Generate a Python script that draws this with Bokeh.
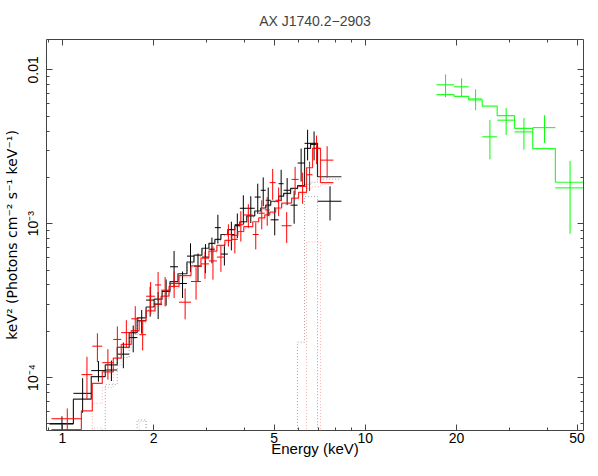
from bokeh.plotting import figure
from bokeh.models import Range1d, LogAxis, FixedTicker
from bokeh.embed import file_html
from bokeh.resources import INLINE

FONT = "Liberation Sans"

# ---------------- data ----------------
title_text = "AX J1740.2\u22122903"
x_label = "Energy (keV)"
y_label = "keV\u00b2 (Photons cm\u207b\u00b2 s\u207b\u00b9 keV\u207b\u00b9)"

x_major = [1, 2, 5, 10, 20, 50]
x_minor = [0.9, 3, 4, 6, 7, 8, 9, 30, 40]
x_tick_labels = ["1", "2", "5", "10", "20", "50"]
y_major = [1e-4, 1e-3, 1e-2]
y_minor = [5e-5, 6e-5, 7e-5, 8e-5, 9e-5,
           2e-4, 3e-4, 4e-4, 5e-4, 6e-4, 7e-4, 8e-4, 9e-4,
           2e-3, 3e-3, 4e-3, 5e-3, 6e-3, 7e-3, 8e-3, 9e-3]
y_tick_labels = ["10\u207b\u2074", "10\u207b\u00b3", "0.01"]

# dataset 1 (black)
black_edges = [0.906, 1.087, 1.245, 1.385, 1.517, 1.661, 1.765, 1.889, 2.008, 2.133,
               2.266, 2.407, 2.577, 2.718, 2.887, 3.045, 3.186, 3.334, 3.516, 3.707,
               3.851, 4.060, 4.313, 4.514, 4.689, 4.870, 5.173, 5.373, 5.665, 5.974,
               6.300, 6.594, 6.951, 8.339]
black_flux = [5.0e-5, 7.9e-5, 1.11e-4, 1.12e-4, 1.42e-4, 1.82e-4, 2.34e-4, 3.19e-4, 3.0e-4, 3.64e-4,
              5.25e-4, 4.09e-4, 6.16e-4, 5.3e-4, 6.07e-4, 6.83e-4, 9.43e-4, 6.35e-4, 8.51e-4, 9.85e-4,
              1.26e-3, 1.26e-3, 1.49e-3, 1.65e-3, 1.42e-3, 1.06e-3, 1.82e-3, 1.65e-3, 1.32e-3, 2.48e-3,
              3.33e-3, 3.28e-3, 1.40e-3]
black_err = [0.6e-5, 2.0e-5, 1.7e-5, 1.7e-5, 2.7e-5, 3.6e-5, 4.1e-5, 7e-5, 6e-5, 7e-5,
             1.4e-4, 8e-5, 1.3e-4, 1.1e-4, 1.3e-4, 1.3e-4, 2e-4, 1.0e-4, 1.8e-4, 1.8e-4,
             2.7e-4, 2.5e-4, 3.3e-4, 3.5e-4, 3e-4, 2.2e-4, 4.2e-4, 3.3e-4, 3.2e-4, 6e-4,
             7.5e-4, 7e-4, 3.5e-4]
black_model = [5.02e-5, 7.24e-5, 1.015e-4, 1.21e-4, 1.575e-4, 1.96e-4, 2.445e-4, 2.875e-4, 3.233e-4, 3.635e-4,
               4.21e-4, 4.73e-4, 5.64e-4, 6.25e-4, 6.93e-4, 7.46e-4, 7.91e-4, 8.51e-4, 9.16e-4, 9.71e-4,
               1.03e-3, 1.125e-3, 1.21e-3, 1.265e-3, 1.32e-3, 1.40e-3, 1.51e-3, 1.575e-3, 1.695e-3, 1.77e-3,
               3.09e-3, 3.33e-3, 2.02e-3]
black_cont = [1e-6, 1e-6, 1e-6, 9.0e-5, 1.35e-4, 1.8e-4, 2.3e-4, 2.75e-4, 3.1e-4, 3.5e-4,
              4.05e-4, 4.6e-4, 5.5e-4, 6.1e-4, 6.75e-4, 7.3e-4, 7.75e-4, 8.35e-4, 9.0e-4, 9.55e-4,
              1.015e-3, 1.105e-3, 1.19e-3, 1.245e-3, 1.30e-3, 1.38e-3, 1.49e-3, 1.555e-3, 1.67e-3, 1.75e-3,
              1.80e-3, 1.86e-3, 1.95e-3]
black_line = [1e-6, 1e-6, 1e-6, 1e-6, 1e-6, 1e-6, 5.3e-5, 1e-6, 1e-6, 1e-6,
              1e-6, 1e-6, 1e-6, 1e-6, 1e-6, 1e-6, 1e-6, 1e-6, 1e-6, 1e-6,
              1e-6, 1e-6, 1e-6, 1e-6, 1e-6, 1e-6, 1e-6, 1e-6, 1e-6, 1.7e-4,
              1.5e-3, 1.5e-3, 1e-6]

# dataset 2 (red)
red_edges = [0.920, 1.155, 1.255, 1.354, 1.472, 1.564, 1.687, 1.792, 1.889, 2.022,
             2.117, 2.249, 2.426, 2.657, 2.866, 3.045, 3.235, 3.437, 3.624, 3.793,
             3.969, 4.249, 4.446, 4.654, 4.833, 5.057, 5.292, 5.708, 6.019, 6.397,
             6.693, 7.112, 7.846]
red_flux = [5.4e-5, 1.045e-4, 1.60e-4, 1.25e-4, 1.77e-4, 1.96e-4, 2.41e-4, 1.9e-4, 3.38e-4, 4.0e-4,
            3.7e-4, 4.09e-4, 3.09e-4, 4.21e-4, 5.48e-4, 5.73e-4, 6.07e-4, 8.51e-4, 7.91e-4, 9.85e-4,
            1.14e-3, 8.51e-4, 1.17e-3, 1.23e-3, 1.85e-3, 1.42e-3, 9.7e-4, 1.94e-3, 1.75e-3, 2.08e-3,
            3.09e-3, 2.59e-3]
red_err = [0.9e-5, 3.2e-5, 3.4e-5, 2.8e-5, 3.8e-5, 4e-5, 5e-5, 4e-5, 8e-5, 8.5e-5,
           8e-5, 8e-5, 7e-5, 1e-4, 1.1e-4, 1.4e-4, 1.2e-4, 1.4e-4, 1.5e-4, 2.2e-4,
           2e-4, 1.7e-4, 2.5e-4, 2.6e-4, 4.2e-4, 3e-4, 2.2e-4, 4e-4, 4e-4, 4.5e-4,
           6.5e-4, 6e-4]
red_model = [4.6e-5, 6.07e-5, 9.16e-5, 1.09e-4, 1.34e-4, 1.645e-4, 2.02e-4, 2.34e-4, 2.71e-4, 3.0e-4,
             3.38e-4, 3.91e-4, 4.6e-4, 5.32e-4, 5.98e-4, 6.63e-4, 7.24e-4, 7.79e-4, 8.39e-4, 8.9e-4,
             9.57e-4, 1.03e-3, 1.09e-3, 1.14e-3, 1.19e-3, 1.265e-3, 1.36e-3, 1.465e-3, 1.60e-3, 2.31e-3,
             3.09e-3, 1.85e-3]
red_cont = [1e-6, 1e-6, 6.8e-5, 8.6e-5, 1.2e-4, 1.55e-4, 1.93e-4, 2.25e-4, 2.62e-4, 2.9e-4,
            3.28e-4, 3.8e-4, 4.48e-4, 5.18e-4, 5.83e-4, 6.47e-4, 7.07e-4, 7.61e-4, 8.2e-4, 8.7e-4,
            9.36e-4, 1.01e-3, 1.065e-3, 1.115e-3, 1.165e-3, 1.24e-3, 1.33e-3, 1.43e-3, 1.56e-3, 1.70e-3,
            1.74e-3, 1.80e-3]
red_line = [1e-6, 1e-6, 4.7e-5, 1e-6, 1e-6, 1e-6, 1e-6, 5.2e-5, 1e-6, 1e-6,
            1e-6, 1e-6, 1e-6, 1e-6, 1e-6, 1e-6, 1e-6, 1e-6, 1e-6, 1e-6,
            1e-6, 1e-6, 1e-6, 1e-6, 1e-6, 1e-6, 1e-6, 1e-6, 1e-6, 7.6e-4,
            7.6e-4, 1e-6]

# dataset 3 (green, hard X-ray)
green_edges = [17.17, 19.63, 21.94, 24.31, 27.24, 31.08, 35.69, 42.41, 52.4]
green_flux = [7.99e-3, 7.76e-3, 6.47e-3, 3.67e-3, 4.71e-3, 3.95e-3, 4.21e-3, 1.71e-3]
green_err = [1.35e-3, 1.05e-3, 1.0e-3, 1.05e-3, 0.93e-3, 0.92e-3, 0.86e-3, 0.85e-3]
green_model = [6.90e-3, 6.73e-3, 6.37e-3, 5.81e-3, 5.04e-3, 4.17e-3, 3.08e-3, 1.86e-3]

# ---------------- figure ----------------
p = figure(width=586, height=460, x_axis_type="log", y_axis_type="log",
           x_range=Range1d(0.886, 52.5), y_range=Range1d(4.53e-5, 1.575e-2),
           output_backend="svg", toolbar_location=None,
           min_border_left=39, min_border_right=3, min_border_top=33, min_border_bottom=30,
           title=title_text)
p.grid.visible = False
p.outline_line_color = None
p.background_fill_color = "white"
p.border_fill_color = "white"

p.title.align = "center"
p.title.text_font = FONT
p.title.text_font_size = "14px"
p.title.text_font_style = "normal"
p.title.standoff = 21

AXC = "#444444"


def style_axis(ax, ticker, show_labels):
    ax.ticker = ticker
    ax.major_tick_in = 6
    ax.major_tick_out = 0
    ax.minor_tick_in = 3
    ax.minor_tick_out = 0
    ax.axis_line_color = AXC
    ax.major_tick_line_color = AXC
    ax.minor_tick_line_color = AXC
    ax.major_label_text_font = FONT
    ax.major_label_text_color = "black"
    ax.axis_label_text_font = FONT
    ax.axis_label_text_font_size = "15px"
    ax.axis_label_text_font_style = "normal"
    ax.axis_label_text_color = "black"
    if show_labels:
        ax.major_label_text_font_size = "14px"
    else:
        ax.major_label_text_font_size = "1px"
        ax.major_label_text_alpha = 0.0
        ax.major_label_standoff = 0
        ax.axis_label_standoff = 0


xt = FixedTicker(ticks=x_major, minor_ticks=x_minor)
yt = FixedTicker(ticks=y_major, minor_ticks=y_minor)

xa = p.xaxis[0]
style_axis(xa, xt, True)
xa.major_label_overrides = {t: s for t, s in zip(x_major, x_tick_labels)}
xa.axis_label = x_label
xa.major_label_standoff = 2
xa.axis_label_standoff = -6

ya = p.yaxis[0]
style_axis(ya, yt, True)
ya.major_label_overrides = {t: s for t, s in zip(y_major, y_tick_labels)}
ya.major_label_orientation = "vertical"
ya.axis_label = y_label
ya.axis_label_text_font = "DejaVu Sans"
ya.axis_label_text_font_size = "14px"
ya.major_label_standoff = 5
ya.axis_label_standoff = 3

top = LogAxis()
style_axis(top, FixedTicker(ticks=x_major, minor_ticks=x_minor), False)
top.major_label_overrides = {t: "" for t in x_major}
p.add_layout(top, "above")

right = LogAxis()
style_axis(right, FixedTicker(ticks=y_major, minor_ticks=y_minor), False)
right.major_label_overrides = {t: "" for t in y_major}
p.add_layout(right, "right")


def steps(edges, vals):
    xs, ys = [], []
    for i, v in enumerate(vals):
        xs += [edges[i], edges[i + 1]]
        ys += [v, v]
    return xs, ys


def dataset(edges, flux, err, model, color, comps=(), comp_color=None):
    lo = edges[:-1]
    hi = edges[1:]
    cen = [(a + b) / 2 for a, b in zip(lo, hi)]
    p.segment(x0=lo, y0=flux, x1=hi, y1=flux, line_color=color, line_width=1)
    p.segment(x0=cen, y0=[f - e for f, e in zip(flux, err)],
              x1=cen, y1=[f + e for f, e in zip(flux, err)],
              line_color=color, line_width=1)
    for comp in comps:
        xs, ys = steps(edges, comp)
        p.line(xs, ys, line_color=comp_color, line_width=1, line_dash="1 2", line_alpha=0.6)
    xs, ys = steps(edges, model)
    p.line(xs, ys, line_color=color, line_width=1.2, line_alpha=0.85)


dataset(black_edges, black_flux, black_err, black_model, "#000000",
        comps=(black_cont, black_line), comp_color="#666666")
dataset(red_edges, red_flux, red_err, red_model, "#ff0000",
        comps=(red_cont, red_line), comp_color="#ff8080")
dataset(green_edges, green_flux, green_err, green_model, "#00ff00")

open("out.html", "w").write(file_html(p, INLINE))
